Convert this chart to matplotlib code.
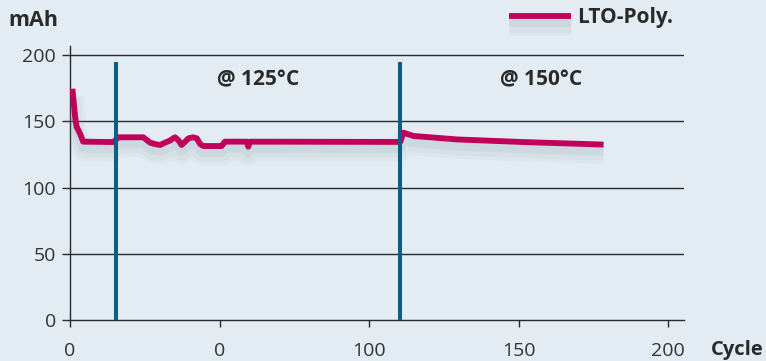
import matplotlib
matplotlib.use("Agg")
import matplotlib.pyplot as plt
import matplotlib.patheffects as pe

# Kapazitaet der LTO-Polymer-Zelle ueber die Zyklen
cycle = [0.8, 1.7, 2.2, 3.3, 4.4, 14.5, 16.2, 24.5, 26.8, 28.4, 30.1, 31.8,
         33.4, 35.1, 36.2, 37.3, 38.5, 39.6, 41.2, 42.4, 43.5, 44.6, 50.7,
         51.8, 59.1, 59.6, 60.2, 110.4, 111.5, 114.8, 129.3, 151.6, 178.4]
capacity = [174.5, 153.4, 145.9, 140.9, 134.6, 134.3, 137.9, 137.9, 133.8,
            132.8, 132.1, 133.9, 135.4, 137.9, 135.8, 132.1, 134.6, 137.1,
            137.9, 137.1, 132.8, 131.3, 131.3, 134.6, 134.6, 130.8, 134.6,
            134.4, 141.4, 138.9, 136.3, 134.3, 132.4]

# Temperaturwechsel (vertikale Linien) und Beschriftungen
phase_cycles = [15.4, 110.4]
phase_labels = ["@ 125°C", "@ 150°C"]
phase_label_x = [62.9, 157.5]

xticks = [0, 50, 100, 150, 200]
xtick_labels = ["0", "0", "100", "150", "200"]
yticks = [0, 50, 100, 150, 200]

bg = "#E2ECF2"
magenta = "#C0005A"
blue = "#0B5E84"
dark = "#2a2a2a"

plt.rcParams["font.family"] = ["Open Sans", "DejaVu Sans"]

fig = plt.figure(figsize=(7.66, 3.61), dpi=100, facecolor=bg)
ax = fig.add_axes([70 / 766, 41 / 361, 614 / 766, 274 / 361], facecolor=bg)

# Gitterlinien
for y in yticks[1:]:
    ax.axhline(y, color=dark, lw=1.0, zorder=1)

# Schatten unter der Kurve (weich)
shadow = [
    pe.SimpleLineShadow(offset=(0, -6), shadow_color="#7f909c", alpha=0.05, linewidth=16),
    pe.SimpleLineShadow(offset=(0, -6), shadow_color="#7f909c", alpha=0.07, linewidth=11),
    pe.SimpleLineShadow(offset=(0, -5), shadow_color="#7f909c", alpha=0.10, linewidth=6),
    pe.Normal(),
]

line, = ax.plot(cycle, capacity, color=magenta, lw=4.2, solid_joinstyle="round",
                solid_capstyle="butt", zorder=3, label="LTO-Poly.",
                path_effects=shadow)

ax.vlines(phase_cycles, 0, 194.7, colors=blue, lw=2.9, zorder=4)

for lx, txt in zip(phase_label_x, phase_labels):
    ax.text(lx, 181, txt, ha="center", va="center", fontsize=15,
            fontweight="bold", color=dark)

ax.set_xlim(0, 205.3)
ax.set_ylim(0, 206.8)
ax.set_xticks(xticks)
ax.set_xticklabels(xtick_labels)
ax.set_yticks(yticks)

for s in ["top", "right"]:
    ax.spines[s].set_visible(False)
for s in ["left", "bottom"]:
    ax.spines[s].set_color(dark)
    ax.spines[s].set_linewidth(1.0)

ax.tick_params(axis="x", direction="out", length=5, width=1.0, color=dark,
               labelsize=14, labelcolor="#333333", pad=10.5)
ax.tick_params(axis="y", direction="out", length=6, width=1.0, color=dark,
               labelsize=14, labelcolor="#333333", pad=4)

# Achsentitel
fig.text(8 / 766, 1 - 20 / 361, "mAh", ha="left", va="center",
         fontsize=15.5, fontweight="bold", color=dark)
fig.text(711 / 766, 1 - 350 / 361, "Cycle", ha="left", va="center",
         fontsize=14.5, fontweight="bold", color=dark)

leg = ax.legend(loc="center right", bbox_to_anchor=(681 / 766, 1 - 18 / 361),
                bbox_transform=fig.transFigure, frameon=False,
                handlelength=3.0, handletextpad=0.25, borderaxespad=0,
                prop={"weight": "bold", "size": 15})
for t in leg.get_texts():
    t.set_color(dark)

fig.savefig("out.png", dpi=100, facecolor=bg)
